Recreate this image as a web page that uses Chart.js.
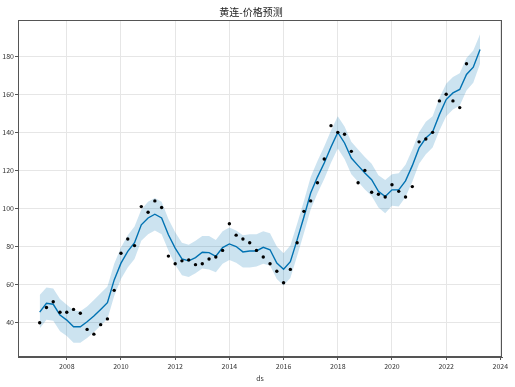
<!DOCTYPE html>
<html>
<head>
<meta charset="utf-8">
<script src="https://cdn.jsdelivr.net/npm/chart.js@4.4.0/dist/chart.umd.min.js"></script>
<style>
  html, body { margin: 0; padding: 0; background: #fff; }
</style>
</head>
<body>
<canvas id="chart" width="515" height="387"></canvas>
<script>
// quarterly dates (ds), last two are forecast only
var ds = [
  '2007-01','2007-04','2007-07','2007-10','2008-01','2008-04','2008-07','2008-10',
  '2009-01','2009-04','2009-07','2009-10','2010-01','2010-04','2010-07','2010-10',
  '2011-01','2011-04','2011-07','2011-10','2012-01','2012-04','2012-07','2012-10',
  '2013-01','2013-04','2013-07','2013-10','2014-01','2014-04','2014-07','2014-10',
  '2015-01','2015-04','2015-07','2015-10','2016-01','2016-04','2016-07','2016-10',
  '2017-01','2017-04','2017-07','2017-10','2018-01','2018-04','2018-07','2018-10',
  '2019-01','2019-04','2019-07','2019-10','2020-01','2020-04','2020-07','2020-10',
  '2021-01','2021-04','2021-07','2021-10','2022-01','2022-04','2022-07','2022-10',
  '2023-01','2023-04'
];
// observed price (y)
var actual = [
  40, 48, 51, 45.5, 45.5, 47, 45, 36.5,
  34, 39, 42, 57, 76.5, 84, 80.5, 101,
  98, 104, 100.5, 75, 71, 72.5, 73, 70.5,
  71, 73.5, 74.5, 78, 92, 86, 84, 82,
  78, 74.5, 71, 67, 61, 68, 82, 98.5,
  104, 113.5, 126, 143.5, 140, 139, 130, 113.5,
  120, 108.5, 107.5, 106, 112.5, 109, 106, 111.5,
  135, 136.5, 140, 156.5, 160, 156.5, 153, 176
];
// forecast
var yhat = [
  45.6, 50.2, 49.7, 44.0, 41.4, 37.9, 37.9, 40.5,
  43.5, 47.0, 50.5, 62.5, 71.3, 77.5, 82.0, 91.4,
  95.0, 97.0, 95.0, 86.2, 79.2, 73.5, 72.5, 74.2,
  77.0, 76.8, 74.9, 79.5, 81.4, 80.0, 77.2, 77.7,
  77.7, 79.6, 78.3, 71.3, 68.1, 72.1, 83.5, 95.5,
  108.1, 116.5, 123.9, 132.3, 140.0, 134.4, 126.5, 122.5,
  118.6, 115.1, 109.0, 106.3, 109.8, 109.8, 114.5, 122.5,
  131.8, 137.0, 140.2, 149.3, 157.2, 160.7, 162.5, 170.4,
  174.2, 183.5
];
var yhatUpper = [
  54.5, 58.5, 58.0, 52.5, 49.5, 46.5, 46.0, 48.5,
  52.0, 55.5, 59.0, 71.0, 79.5, 86.0, 90.5, 99.5,
  103.5, 105.5, 103.5, 94.5, 87.5, 82.0, 81.0, 83.0,
  85.5, 85.5, 83.5, 88.0, 90.0, 88.5, 86.0, 86.5,
  86.5, 88.0, 87.0, 80.0, 76.5, 80.5, 92.0, 104.0,
  116.5, 125.0, 132.5, 141.0, 148.5, 143.0, 135.0, 131.0,
  127.0, 123.5, 117.5, 115.0, 118.0, 118.5, 123.0, 131.0,
  140.0, 145.5, 148.5, 158.0, 165.5, 169.0, 171.0, 179.0,
  183.0, 191.5
];
var yhatLower = [
  37.0, 41.5, 41.0, 35.5, 33.0, 29.5, 29.5, 32.0,
  35.0, 38.5, 42.0, 54.0, 63.0, 69.0, 73.5, 83.0,
  86.5, 88.5, 86.5, 78.0, 70.5, 65.0, 64.0, 66.0,
  68.5, 68.0, 66.5, 71.0, 73.0, 71.5, 69.0, 69.0,
  69.5, 71.0, 70.0, 63.0, 59.5, 63.5, 75.0, 87.0,
  99.5, 108.0, 115.5, 124.0, 131.5, 126.0, 118.0, 114.0,
  110.0, 106.5, 100.5, 97.5, 101.5, 101.0, 106.0, 114.0,
  123.5, 128.5, 132.0, 141.0, 148.5, 152.0, 154.0, 162.0,
  166.0, 176.0
];
var xTicks = [2008, 2010, 2012, 2014, 2016, 2018, 2020, 2022, 2024];
var yTicks = [40, 60, 80, 100, 120, 140, 160, 180];

// 'YYYY-MM' -> decimal year for the linear x axis
function toYear(s) {
  var p = s.split('-');
  return +p[0] + (+p[1] - 1) / 12;
}
function pts(vals) {
  return vals.map(function (v, i) { return { x: toYear(ds[i]), y: v }; });
}

var tickFont = { family: "'Noto Sans CJK SC', 'DejaVu Sans', sans-serif", size: 7 };

// matplotlib-like frame around the plot area
var frame = {
  id: 'frame',
  afterDraw: function (chart) {
    var a = chart.chartArea, ctx = chart.ctx;
    ctx.save();
    ctx.strokeStyle = '#555';
    ctx.lineWidth = 1;
    ctx.strokeRect(a.left + 0.5, a.top + 0.5, a.right - a.left - 1, a.bottom - a.top - 1);
    ctx.restore();
  }
};

new Chart(document.getElementById('chart'), {
  type: 'line',
  data: {
    datasets: [
      {
        data: pts(actual),
        showLine: false,
        pointRadius: 1.7,
        pointBackgroundColor: '#000',
        pointBorderWidth: 0,
        order: 0
      },
      {
        data: pts(yhat),
        borderColor: '#0072B2',
        borderWidth: 1.4,
        pointRadius: 0,
        fill: false,
        order: 1
      },
      {
        data: pts(yhatUpper),
        borderWidth: 0,
        pointRadius: 0,
        backgroundColor: 'rgba(0,114,178,0.2)',
        fill: '+1',
        order: 2
      },
      {
        data: pts(yhatLower),
        borderWidth: 0,
        pointRadius: 0,
        fill: false,
        order: 3
      }
    ]
  },
  options: {
    responsive: false,
    animation: false,
    devicePixelRatio: 1,
    layout: { padding: { left: 0, right: 13, top: 0, bottom: 0 } },
    plugins: {
      legend: { display: false },
      tooltip: { enabled: false },
      title: {
        display: true,
        text: '黄连-价格预测',
        color: '#222',
        font: { family: "'Noto Sans CJK SC', sans-serif", size: 10, weight: 'normal' },
        padding: { top: 6, bottom: 2 }
      }
    },
    scales: {
      x: {
        type: 'linear',
        min: 2006.2,
        max: 2024.06,
        afterBuildTicks: function (s) { s.ticks = xTicks.map(function (v) { return { value: v }; }); },
        afterFit: function (s) { s.height = 30; },
        ticks: { font: tickFont, color: '#333', padding: 2, maxRotation: 0,
                 callback: function (v) { return String(v); } },
        grid: { color: '#e6e6e6', tickLength: 3, tickColor: '#555' },
        border: { color: '#555' },
        title: { display: true, text: 'ds', font: tickFont, color: '#333', padding: { top: 1, bottom: 4 } }
      },
      y: {
        min: 22,
        max: 199,
        afterBuildTicks: function (s) { s.ticks = yTicks.map(function (v) { return { value: v }; }); },
        afterFit: function (s) { s.width = 18; },
        ticks: { font: tickFont, color: '#333', padding: 1 },
        grid: { color: '#e6e6e6', tickLength: 3, tickColor: '#555' },
        border: { color: '#555' }
      }
    }
  },
  plugins: [frame]
});
</script>
</body>
</html>
